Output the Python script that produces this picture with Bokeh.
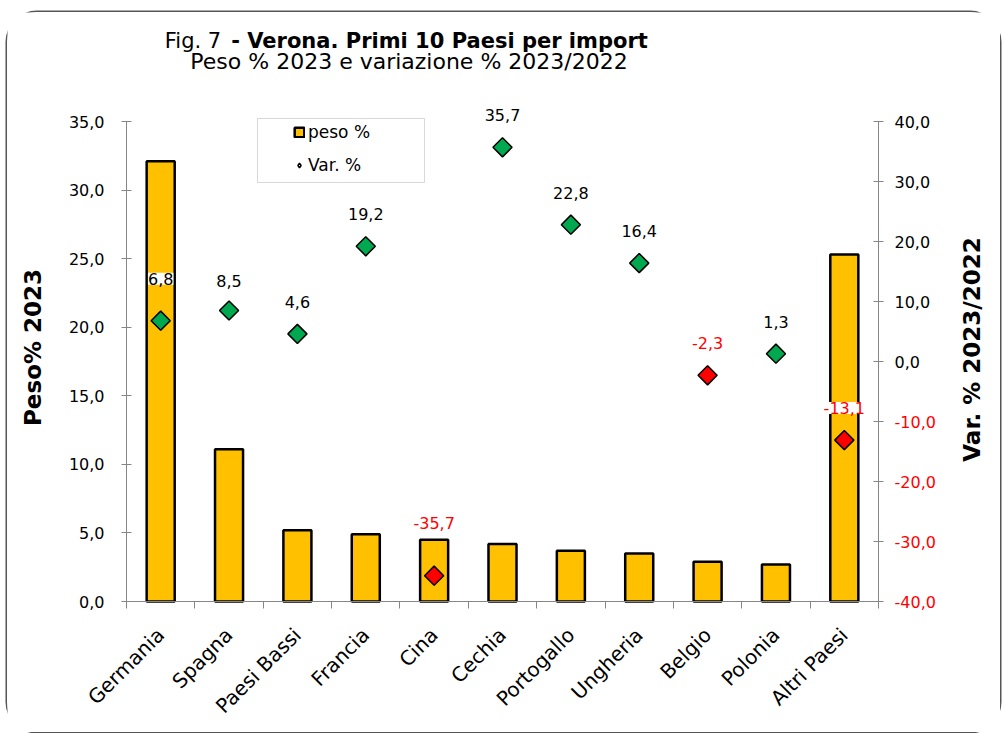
import math
from bokeh.plotting import figure
from bokeh.models import (Range1d, LinearAxis, FixedTicker,
                          ColumnDataSource, LabelSet, Label, Legend, LegendItem, BoxAnnotation)
from bokeh.core.properties import value
from bokeh.embed import file_html
from bokeh.resources import INLINE

# ---------------- data ----------------
categories = ["Germania", "Spagna", "Paesi Bassi", "Francia", "Cina", "Cechia",
              "Portogallo", "Ungheria", "Belgio", "Polonia", "Altri Paesi"]
peso = [32.1, 11.1, 5.2, 4.9, 4.5, 4.2, 3.7, 3.5, 2.9, 2.7, 25.3]
variazione = [6.8, 8.5, 4.6, 19.2, -35.7, 35.7, 22.8, 16.4, -2.3, 1.3, -13.1]
left_ticks = [0, 5, 10, 15, 20, 25, 30, 35]
right_ticks = [-40, -30, -20, -10, 0, 10, 20, 30, 40]

# ---------------- style / layout ----------------
FONT = "DejaVu Sans"
AXIS_GRAY = "#868686"
BAR_COLOR = "#FFC000"
POS_COLOR = "#00A850"
NEG_COLOR = "#FF0000"
label_offset = [42, 30, 32, 32, 53, 32, 32, 32, 32, 32, 32]

MX, MY = 8, 12                      # page position of the canvas
W, H = 993, 720                     # canvas size
PL, PR, PT, PB = 119, 871, 109, 589  # canvas box of the axes' own extent


def sx(page_x):
    return page_x - MX


def sy(page_y):
    return H - (page_y - MY)


def fmt(v):
    return f"{v:.1f}".replace(".", ",")


n = len(categories)
centers = [i + 0.5 for i in range(n)]      # category slots on the x scale
boundaries = list(range(n + 1))
y_lo, y_hi = left_ticks[0], left_ticks[-1]
r_lo, r_hi = right_ticks[0], right_ticks[-1]

kx = n / (PR - PL)
ky = (y_hi - y_lo) / (PB - PT)
kr = (r_hi - r_lo) / (PB - PT)

src = ColumnDataSource(dict(
    x=centers,
    cat=categories,
    peso=peso,
    var=variazione,
    color=[POS_COLOR if v >= 0 else NEG_COLOR for v in variazione],
    lbl=[fmt(v) for v in variazione],
    lblcolor=["black" if v >= 0 else NEG_COLOR for v in variazione],
    dy=label_offset,
))

p = figure(width=W, height=H,
           x_range=Range1d(-PL * kx, n + (W - PR) * kx),
           y_range=Range1d(y_lo - (H - PB) * ky, y_hi + PT * ky),
           output_backend="svg", toolbar_location=None,
           x_axis_location=None, y_axis_location=None,
           min_border_left=0, min_border_right=0, min_border_top=0, min_border_bottom=0)
p.extra_y_ranges = {"var": Range1d(r_lo - (H - PB) * kr, r_hi + PT * kr)}
p.outline_line_color = None
p.grid.visible = False
p.background_fill_color = "white"
p.border_fill_color = "white"
p.styles = {"box-shadow": "0 0 0 1.5px #555", "border-radius": "30px",
            "margin-left": f"{MX - 1}px", "margin-top": f"{MY}px"}

# ---------------- axes ----------------
left_axis = LinearAxis(ticker=FixedTicker(ticks=left_ticks), bounds=(y_lo, y_hi),
                       fixed_location=0,
                       major_label_overrides={t: fmt(t) for t in left_ticks})
right_axis = LinearAxis(y_range_name="var", ticker=FixedTicker(ticks=right_ticks),
                        bounds=(r_lo, r_hi), fixed_location=n,
                        major_label_overrides={t: (fmt(t) if t >= 0 else "") for t in right_ticks})
for ax, so in ((left_axis, 17), (right_axis, 11)):
    ax.axis_line_color = AXIS_GRAY
    ax.major_tick_line_color = AXIS_GRAY
    ax.minor_tick_line_color = None
    ax.major_tick_in = 5
    ax.major_tick_out = 5
    ax.major_label_standoff = so
    ax.major_label_text_font = FONT
    ax.major_label_text_font_size = "16px"
    ax.major_label_text_color = "black"
p.add_layout(left_axis, "left")
p.add_layout(right_axis, "right")

x_axis = LinearAxis(ticker=FixedTicker(ticks=centers, minor_ticks=boundaries), bounds=(0, n),
                    fixed_location=y_lo,
                    major_label_overrides=dict(zip(centers, categories)),
                    axis_line_color=AXIS_GRAY, major_tick_line_color=None,
                    minor_tick_line_color=AXIS_GRAY, minor_tick_in=0, minor_tick_out=7,
                    major_tick_in=0, major_tick_out=0,
                    major_label_orientation=math.pi / 4, major_label_standoff=23,
                    major_label_text_font=FONT, major_label_text_font_size="20px",
                    major_label_text_color="black")
p.add_layout(x_axis, "below")

# axis titles
p.add_layout(Label(x=sx(33), y=sy(347), x_units="screen", y_units="screen", text="Peso% 2023",
                   angle=math.pi / 2, text_align="center", text_baseline="middle",
                   text_color="black",
                   text_font=FONT, text_font_style="bold", text_font_size="23px"))
p.add_layout(Label(x=sx(972), y=sy(349), x_units="screen", y_units="screen",
                   text="Var. % 2023/2022",
                   angle=math.pi / 2, text_align="center", text_baseline="middle",
                   text_color="black",
                   text_font=FONT, text_font_style="bold", text_font_size="23px"))

# ---------------- glyphs ----------------
bars = p.vbar(x="x", top="peso", width=0.41, source=src, fill_color=BAR_COLOR,
              line_color="black", line_width=2.5)
p.scatter(x="x", y="var", source=src, y_range_name="var", marker="square",
          angle=math.pi / 4, size=13.5, fill_color="color", line_color="black", line_width=1.5)

p.add_layout(LabelSet(x="x", y="var", text="lbl", source=src, y_range_name="var",
                      y_offset="dy", text_align="center", text_baseline="middle",
                      text_color="lblcolor", text_font=value(FONT), text_font_size="16px",
                      background_fill_color="white"))

# red negative tick labels of the right axis
neg_src = ColumnDataSource(dict(y=[t for t in right_ticks if t < 0],
                                t=[fmt(t) for t in right_ticks if t < 0]))
p.add_layout(LabelSet(x=n, y="y", x_offset=16, y_range_name="var", text="t",
                      source=neg_src, text_align="left", text_baseline="middle",
                      text_color=NEG_COLOR, text_font=value(FONT), text_font_size="16px"))

# ---------------- legend ----------------
legend_marker = p.scatter(x="x", y="var", source=src, y_range_name="var", marker="diamond",
                          fill_color="white", line_color="black",
                          line_width=1.5, visible=False)
p.add_layout(BoxAnnotation(left=sx(258), right=sx(425), top=sy(118), bottom=sy(182),
                           left_units="screen", right_units="screen",
                           top_units="screen", bottom_units="screen",
                           fill_color=None, line_color="#808080", line_width=1))
legend = Legend(items=[LegendItem(label="peso %", renderers=[bars]),
                       LegendItem(label="Var. %", renderers=[legend_marker])],
                location=(sx(289), sy(180)), padding=5, spacing=13, label_height=20,
                glyph_width=12, glyph_height=12, label_standoff=3,
                border_line_alpha=0, background_fill_alpha=0, inactive_fill_alpha=0,
                label_text_color="black",
                label_text_font=FONT, label_text_font_size="17px")
p.add_layout(legend)

# ---------------- titles ----------------
p.add_layout(Label(x=sx(193.5), y=sy(40.5), x_units="screen", y_units="screen", text="Fig. 7",
                   text_align="center", text_baseline="middle", text_color="black",
                   text_font=FONT, text_font_size="21px"))
p.add_layout(Label(x=sx(440), y=sy(40.5), x_units="screen", y_units="screen",
                   text="- Verona. Primi 10 Paesi per import",
                   text_align="center", text_baseline="middle", text_font_style="bold",
                   text_color="black", text_font=FONT, text_font_size="21px"))
p.add_layout(Label(x=sx(409.5), y=sy(61), x_units="screen", y_units="screen",
                   text="Peso % 2023 e variazione % 2023/2022",
                   text_align="center", text_baseline="middle", text_color="black",
                   text_font=FONT, text_font_size="22px"))

open("out.html", "w").write(file_html(p, INLINE))
